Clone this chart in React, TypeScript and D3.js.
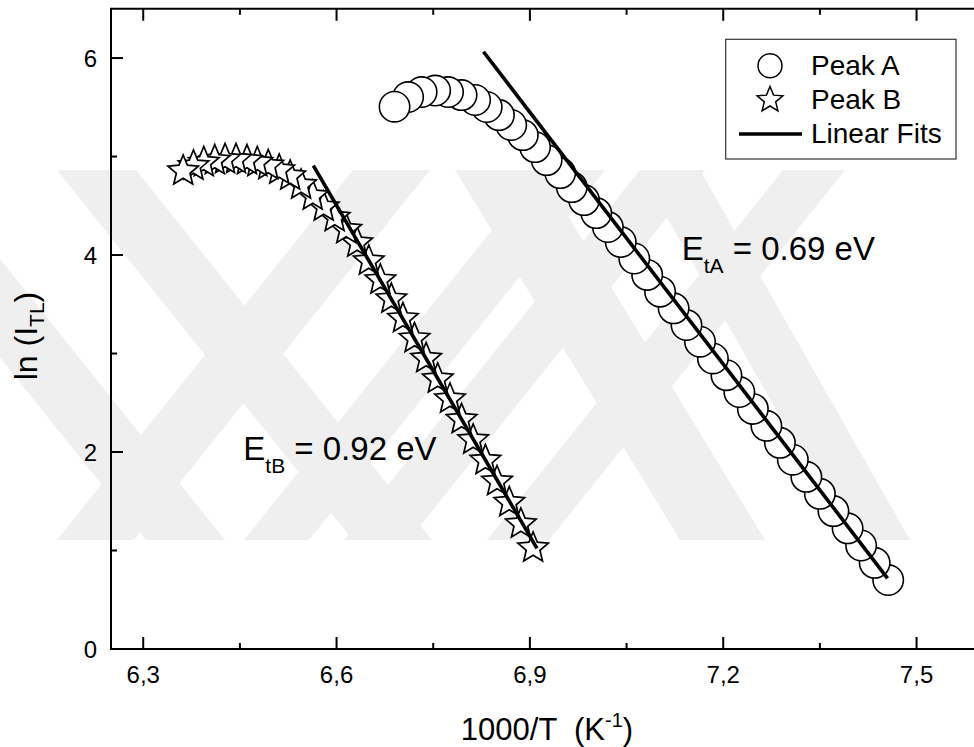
import * as d3 from 'd3';

// Peak A (circles)
const peakAx = [6.690, 6.711, 6.732, 6.753, 6.773, 6.794, 6.815, 6.833, 6.852, 6.871, 6.889, 6.908, 6.926, 6.947, 6.965, 6.984, 7.003, 7.021, 7.041, 7.062, 7.082, 7.102, 7.123, 7.143, 7.164, 7.184, 7.205, 7.225, 7.246, 7.267, 7.288, 7.308, 7.329, 7.350, 7.371, 7.393, 7.414, 7.435, 7.456];
const peakAy = [5.506, 5.604, 5.655, 5.670, 5.655, 5.624, 5.574, 5.503, 5.421, 5.320, 5.218, 5.096, 4.964, 4.832, 4.690, 4.558, 4.426, 4.284, 4.132, 3.965, 3.798, 3.628, 3.459, 3.289, 3.120, 2.950, 2.780, 2.609, 2.438, 2.266, 2.093, 1.922, 1.748, 1.575, 1.400, 1.225, 1.051, 0.875, 0.700];

// Peak B (stars)
const peakBx = [6.362, 6.378, 6.394, 6.411, 6.427, 6.444, 6.461, 6.477, 6.494, 6.511, 6.528, 6.545, 6.563, 6.580, 6.597, 6.615, 6.632, 6.650, 6.668, 6.685, 6.703, 6.721, 6.739, 6.757, 6.776, 6.794, 6.812, 6.831, 6.849, 6.868, 6.886, 6.905];
const peakBy = [4.853, 4.904, 4.939, 4.959, 4.970, 4.970, 4.959, 4.939, 4.909, 4.863, 4.802, 4.711, 4.599, 4.487, 4.381, 4.259, 4.122, 3.939, 3.746, 3.553, 3.355, 3.152, 2.949, 2.741, 2.538, 2.330, 2.122, 1.914, 1.701, 1.487, 1.269, 1.025];

// linear fit end points
const fitAx = [6.828, 7.455];
const fitAy = [6.064, 0.718];
const fitBx = [6.564, 6.911];
const fitBy = [4.907, 1.022];

const xTicks = [6.3, 6.6, 6.9, 7.2, 7.5];
const xMinor = [6.45, 6.75, 7.05, 7.35];
const yTicks = [0, 2, 4, 6];
const yMinor = [1, 3, 5];

// faint background watermark bands: [topLeft, topRight, bottomLeft, bottomRight] in px
const wmBands = [
  [57, 136, 353, 432],
  [353, 430, 57, 134],
  [-150, -71, 146, 225],
  [540, 605, 244, 309],
  [640, 705, 344, 409],
  [783, 845, 487, 549],
  [455, 540, 680, 765],
  [640, 700, 850, 910],
];

const FONT = "Arial, 'Liberation Sans', sans-serif";
const commaFmt = d3.formatLocale({ decimal: ',', thousands: '.', grouping: [3], currency: ['', ''] }).format('.1f');

function starPath(cx: number, cy: number, R: number, r: number) {
  const pts: [number, number][] = d3.range(10).map(i => {
    const a = -Math.PI / 2 + i * Math.PI / 5;
    const rad = i % 2 === 0 ? R : r;
    return [cx + rad * Math.cos(a), cy + rad * Math.sin(a)];
  });
  return d3.line()(pts) + 'Z';
}

export default function App() {
  const width = 974;
  const height = 747;
  const x = d3.scaleLinear().domain([6.25, 7.6]).range([111, 981]);
  const y = d3.scaleLinear().domain([0, 6.5]).range([649, 8.8]);

  const peakA = peakAx.map((v, i) => ({ x: v, y: peakAy[i] }));
  const peakB = peakBx.map((v, i) => ({ x: v, y: peakBy[i] }));
  const line = d3.line<{ x: number; y: number }>().x(d => x(d.x)).y(d => y(d.y));
  const fitA = fitAx.map((v, i) => ({ x: v, y: fitAy[i] }));
  const fitB = fitBx.map((v, i) => ({ x: v, y: fitBy[i] }));

  const x0 = x.range()[0], x1 = x.range()[1];
  const y0 = y.range()[0], y1 = y.range()[1];

  return (
    <div style={{ position: 'absolute', left: 0, top: 0 }}>
      <svg width={width} height={height} style={{ display: 'block', background: '#fff' }} fontFamily={FONT}>
        <defs>
          <clipPath id="wm">
            <rect x={0} y={170} width={width} height={370} />
          </clipPath>
        </defs>

        {/* watermark */}
        <g clipPath="url(#wm)" fill="#efefef">
          {wmBands.map((b, i) => (
            <polygon key={i} points={`${b[0]},170 ${b[1]},170 ${b[3]},540 ${b[2]},540`} />
          ))}
        </g>

        {/* frame */}
        <g stroke="#000" strokeWidth={2} fill="none">
          <line x1={x0} x2={x0} y1={y1} y2={y0 + 1} />
          <line x1={x0 - 1} x2={x1} y1={y0} y2={y0} />
          <line x1={x0 - 1} x2={x1} y1={y1} y2={y1} />
          <line x1={x1} x2={x1} y1={y1} y2={y0} />
          {xTicks.map(t => (
            <g key={t}>
              <line x1={x(t)} x2={x(t)} y1={y0} y2={y0 - 12} />
              <line x1={x(t)} x2={x(t)} y1={y1} y2={y1 + 12} />
            </g>
          ))}
          {xMinor.map(t => (
            <g key={t}>
              <line x1={x(t)} x2={x(t)} y1={y0} y2={y0 - 6} />
              <line x1={x(t)} x2={x(t)} y1={y1} y2={y1 + 6} />
            </g>
          ))}
          {yTicks.map(t => <line key={t} x1={x0} x2={x0 + 12} y1={y(t)} y2={y(t)} />)}
          {yMinor.map(t => <line key={t} x1={x0} x2={x0 + 6} y1={y(t)} y2={y(t)} />)}
        </g>

        {/* tick labels */}
        <g fontSize={24} fill="#000">
          {xTicks.map(t => (
            <text key={t} x={x(t)} y={683} textAnchor="middle">{commaFmt(t)}</text>
          ))}
          {yTicks.map(t => (
            <text key={t} x={97} y={y(t) + 8.5} textAnchor="end">{t}</text>
          ))}
        </g>

        {/* axis titles */}
        <text x={547} y={740} fontSize={31} textAnchor="middle" style={{ whiteSpace: 'pre' }}>
          <tspan>{'1000/T  (K'}</tspan>
          <tspan fontSize={20} dy={-13}>-1</tspan>
          <tspan dy={13}>)</tspan>
        </text>
        <text transform="translate(37,336) rotate(-90)" fontSize={32} textAnchor="middle">
          <tspan>ln (I</tspan>
          <tspan fontSize={21} dy={7}>TL</tspan>
          <tspan dy={-7}>)</tspan>
        </text>

        {/* Peak B stars, first point on top */}
        <g fill="#fff" stroke="#000" strokeWidth={1.7} strokeLinejoin="miter">
          {peakB.slice().reverse().map((d, i) => (
            <path key={i} d={starPath(x(d.x), y(d.y), 16, 7.2)} />
          ))}
        </g>

        {/* Peak A circles */}
        <g fill="#fff" stroke="#000" strokeWidth={1.6}>
          {peakA.slice().reverse().map((d, i) => (
            <circle key={i} cx={x(d.x)} cy={y(d.y)} r={15.2} />
          ))}
        </g>

        {/* linear fits */}
        <g fill="none" stroke="#000" strokeWidth={3.6}>
          <path d={line(fitA) ?? ''} />
          <path d={line(fitB) ?? ''} />
        </g>

        {/* annotations */}
        <text x={681.7} y={260} fontSize={33}>
          <tspan>E</tspan>
          <tspan fontSize={21} dy={13}>tA</tspan>
          <tspan dy={-13}> = 0.69 eV</tspan>
        </text>
        <text x={243.3} y={460} fontSize={33}>
          <tspan>E</tspan>
          <tspan fontSize={21} dy={13}>tB</tspan>
          <tspan dy={-13}> = 0.92 eV</tspan>
        </text>

        {/* legend */}
        <g>
          <rect x={725.7} y={39.3} width={230.3} height={119.7} fill="#fff" stroke="#333" strokeWidth={1.2} />
          <circle cx={770} cy={65.7} r={12} fill="#fff" stroke="#000" strokeWidth={1.5} />
          <path d={starPath(770, 100, 13.5, 6)} fill="#fff" stroke="#000" strokeWidth={1.5} />
          <line x1={739} x2={802} y1={134} y2={134} stroke="#000" strokeWidth={3.6} />
          <g fontSize={28} fill="#000">
            <text x={811} y={75}>Peak A</text>
            <text x={811} y={109}>Peak B</text>
            <text x={811} y={143.3}>Linear Fits</text>
          </g>
        </g>
      </svg>
    </div>
  );
}
